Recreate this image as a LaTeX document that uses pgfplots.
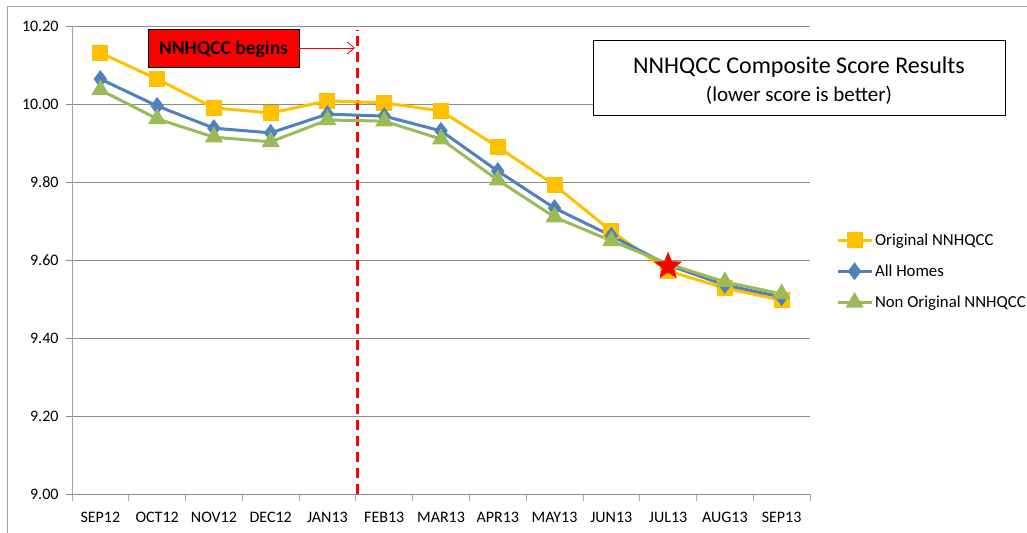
\documentclass[border=0pt]{standalone}
\usepackage{pgfplots}
\pgfplotsset{compat=1.18}
\usepackage{fontspec}
\setmainfont{Carlito}
\usetikzlibrary{arrows.meta}
\definecolor{cyel}{HTML}{FFC000}
\definecolor{cblue}{HTML}{4F81BD}
\definecolor{cgreen}{HTML}{9BBB59}
\definecolor{cgrid}{HTML}{8C8C8C}
\definecolor{caxis}{HTML}{A6A6A6}
\pgfdeclareplotmark{fstar}{%
  \pgfpathmoveto{\pgfqpointpolar{90}{\pgfplotmarksize}}%
  \pgfpathlineto{\pgfqpointpolar{126}{0.42\pgfplotmarksize}}%
  \pgfpathlineto{\pgfqpointpolar{162}{\pgfplotmarksize}}%
  \pgfpathlineto{\pgfqpointpolar{198}{0.42\pgfplotmarksize}}%
  \pgfpathlineto{\pgfqpointpolar{234}{\pgfplotmarksize}}%
  \pgfpathlineto{\pgfqpointpolar{270}{0.42\pgfplotmarksize}}%
  \pgfpathlineto{\pgfqpointpolar{306}{\pgfplotmarksize}}%
  \pgfpathlineto{\pgfqpointpolar{342}{0.42\pgfplotmarksize}}%
  \pgfpathlineto{\pgfqpointpolar{18}{\pgfplotmarksize}}%
  \pgfpathlineto{\pgfqpointpolar{54}{0.42\pgfplotmarksize}}%
  \pgfpathclose\pgfusepathqfillstroke}
\begin{document}
\begin{tikzpicture}
\useasboundingbox (0,0) rectangle (1027bp,533bp);
\fill[white] (0,0) rectangle (1027bp,533bp);
\draw[caxis, line width=1bp] (7bp,0) -- (7bp,526bp) -- (1027bp,526bp);
\begin{axis}[
  at={(72bp,39bp)}, anchor=south west,
  scale only axis, width=738bp, height=468bp,
  xmin=-0.5, xmax=12.5, ymin=9.0, ymax=10.2,
  xtick={0,...,12},
  xticklabels={SEP12,OCT12,NOV12,DEC12,JAN13,FEB13,MAR13,APR13,MAY13,JUN13,JUL13,AUG13,SEP13},
  major x tick style={draw=none},
  minor xtick={-0.5,0.5,...,12.5},
  minor x tick style={draw=caxis, line width=0.8bp},
  ytick={9.0,9.2,...,10.21},
  /pgf/number format/fixed,
  /pgf/number format/fixed zerofill,
  /pgf/number format/precision=2,
  /pgf/number format/assume math mode=true,
  xticklabel style={font=\fontsize{16bp}{18bp}\selectfont, yshift=-9bp},
  yticklabel style={font=\fontsize{16bp}{18bp}\selectfont, xshift=-4bp},
  tick align=outside, major tick length=6bp, minor tick length=7bp,
  ymajorgrids, grid style={cgrid, line width=0.8bp},
  y tick style={draw=cgrid, line width=0.8bp},
  axis x line*=bottom, axis y line*=left,
  x axis line style={cgrid, line width=0.8bp, -},
  y axis line style={caxis, line width=0.8bp, -},
  clip=false,
  legend style={at={(axis description cs:1.035,0.476)}, anchor=west, draw=none, fill=none,
    font=\fontsize{16.8bp}{19bp}\selectfont, row sep=14bp, inner sep=0pt,
    /tikz/every even column/.append style={column sep=2bp}},
  legend cell align=left,
  legend image code/.code={\draw[mark repeat=2,mark phase=2,#1] plot coordinates {(0bp,0bp) (17bp,0bp) (34bp,0bp)};},
]
\addplot[red, line width=2.4bp, dash pattern=on 10bp off 6bp, forget plot] coordinates {(4.53,9.0) (4.53,10.19)};
\addplot[cyel, line width=3bp, mark=square*, mark size=6.5bp, mark options={solid}] coordinates {
(0,10.131) (1,10.064) (2,9.990) (3,9.977) (4,10.008) (5,10.003) (6,9.982) (7,9.890) (8,9.792) (9,9.674) (10,9.572) (11,9.528) (12,9.497)};
\addlegendentry{Original NNHQCC}
\addplot[cblue, line width=3bp, mark=diamond*, mark size=6.5bp, mark options={solid}] coordinates {
(0,10.064) (1,9.995) (2,9.938) (3,9.926) (4,9.974) (5,9.969) (6,9.931) (7,9.828) (8,9.733) (9,9.662) (10,9.587) (11,9.536) (12,9.505)};
\addlegendentry{All Homes}
\addplot[cgreen, line width=3bp, mark=triangle*, mark size=7.5bp, mark options={solid}] coordinates {
(0,10.036) (1,9.962) (2,9.915) (3,9.903) (4,9.959) (5,9.956) (6,9.910) (7,9.805) (8,9.710) (9,9.649) (10,9.590) (11,9.544) (12,9.513)};
\addlegendentry{Non Original NNHQCC}
\addplot[red, only marks, mark=fstar, mark size=14bp, forget plot] coordinates {(10,9.584)};
\end{axis}
% annotation: red box
\draw[black, fill=red, line width=1bp] (148bp,503bp) rectangle (299bp,465bp);
\node[font=\fontsize{19.5bp}{22bp}\selectfont\bfseries] at (223.5bp,484bp) {NNHQCC begins};
\draw[red, line width=0.9bp, -{Straight Barb[length=7bp, width=12bp]}] (299bp,485bp) -- (355bp,485bp);
% title box
\draw[black, fill=white, line width=1bp] (593bp,492bp) rectangle (1005bp,417bp);
\node[font=\fontsize{24bp}{26bp}\selectfont] at (799bp,466bp) {NNHQCC Composite Score Results};
\node[font=\fontsize{21bp}{23bp}\selectfont] at (799bp,438bp) {(lower score is better)};
\end{tikzpicture}
\end{document}
